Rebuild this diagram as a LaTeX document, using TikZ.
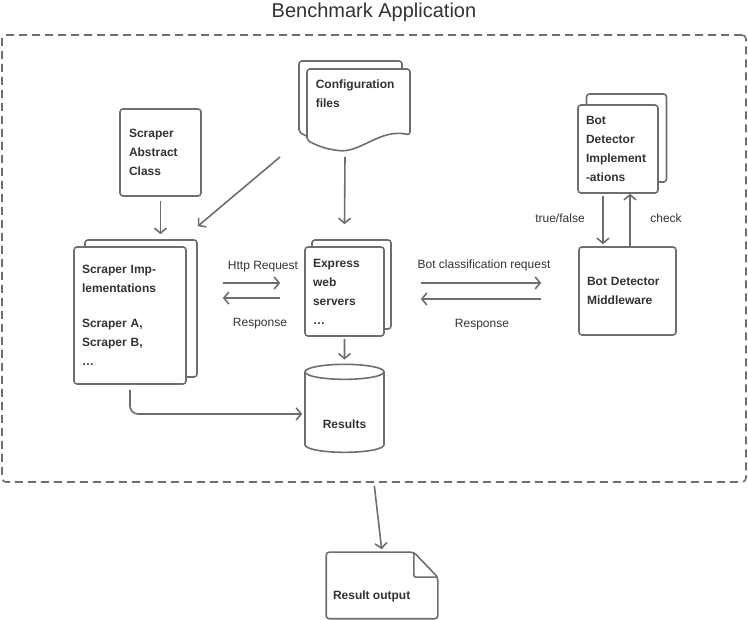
\documentclass[tikz,border=0pt]{standalone}
\usepackage{fontspec}
\setmainfont{Liberation Sans}
\usetikzlibrary{shapes.geometric}
\usetikzlibrary{shadows}
\usetikzlibrary{calc}
\usetikzlibrary{positioning}
\usetikzlibrary{arrows.meta}
\definecolor{linegray}{HTML}{6E6E6E}
\definecolor{textgray}{HTML}{333333}
\tikzset{
    docbox/.style = {draw = linegray, fill = white, rounded corners = 3pt,
        align = left, text = textgray, inner xsep = 8pt, inner ysep = 0pt,
        font = \bfseries\fontsize{12}{19}\selectfont},
    stack/.style 2 args = {copy shadow = {shadow xshift = #1, shadow yshift = #2,
        draw = linegray, fill = white, line width = 1.6pt}},
    lbl/.style = {text = textgray, inner sep = 0pt, font = \fontsize{12}{14}\selectfont},
    arr/.style = {-{Straight Barb[length = 5pt, width = 12pt]}},
}

\begin{document}
\begin{tikzpicture}[x = 1pt, y = 1pt, linegray, line width = 1.6pt]
    \useasboundingbox (0,0) rectangle (748,620);

    \node (title) at (374,608) [text = textgray, font = \fontsize{20}{24}\selectfont] {Benchmark Application};
    \node (app) at (374,361.5) [draw, dash pattern = on 8pt off 5pt, rounded corners = 4pt,
        minimum width = 744pt, minimum height = 447pt] {};

    % configuration files, two sheets with a wavy bottom
    \foreach \s in {8,0}
        \draw[fill = white, rounded corners = 3pt, shift = {(-\s,\s)}]
            (307,480) -- (307,551) -- (410,551) -- (410,485)
            .. controls (380,492) and (360,466) .. (335,470)
            .. controls (322,472) and (312,477) .. (307,480) -- cycle;
    \node (cfg) at (307,551) [docbox, draw = none, fill = none, anchor = north west,
        text width = 90pt, inner ysep = 10pt] {Configuration\\files};

    \node (sac) at (160.5,467.5) [docbox, minimum height = 87pt, text width = 63pt, inner xsep = 9pt]
        {Scraper\\Abstract\\Class};
    \node (simp) at (130,304.5) [docbox, stack = {11pt}{7pt}, minimum height = 137pt, text width = 96pt]
        {Scraper Imp-\\lementations\\[16pt]Scraper A,\\Scraper B,\\\dots};
    \node (exp) at (344.5,328.5) [docbox, stack = {7pt}{7pt}, minimum height = 89pt, text width = 63pt]
        {Express\\web\\servers\\\dots};
    \node (bdi) at (618,471) [docbox, stack = {8.5pt}{11pt}, minimum height = 88pt, text width = 64pt]
        {Bot\\Detector\\Implement\\-ations};
    \node (bdm) at (627.5,329) [docbox, minimum height = 88pt, text width = 81pt]
        {Bot Detector\\Middleware};
    \node (res) at (344.5,206) [cylinder, shape border rotate = 90, draw, fill = white, aspect = 0.3,
        minimum width = 79pt, minimum height = 88pt, text = textgray, text height = 29pt,
        font = \bfseries\fontsize{12}{14}\selectfont] {Results};

    % result output with folded corner
    \node (rout) at (382,34.5) [minimum width = 110pt, minimum height = 65pt] {};
    \draw[fill = white, rounded corners = 3pt] (rout.north west) -- ([xshift = -24pt]rout.north east)
        -- ([yshift = -25pt]rout.north east) -- (rout.south east) -- (rout.south west) -- cycle;
    \draw[rounded corners = 2pt] ([xshift = -24pt]rout.north east)
        -- ([shift = {(-24pt,-25pt)}]rout.north east) -- ([yshift = -25pt]rout.north east);
    \node (routtext) [lbl, anchor = west, font = \bfseries\fontsize{12}{14}\selectfont]
        at ([xshift = 6pt, yshift = -11pt]rout.west) {Result output};

    \draw[arr] ([shift = {(38,-88)}]cfg.north west) -- ([yshift = 22pt]exp.north);
    \draw[arr] ([shift = {(-27,-88)}]cfg.north west) -- ([shift = {(11,20)}]simp.north east);
    \draw[arr, shorten <= 4pt, shorten >= 12pt] (sac) -- (sac |- simp.north);

    \draw[arr, shorten <= 36pt, shorten >= 24pt] (simp.east |- 0,337) -- (exp.west |- 0,337);
    \draw[arr, shorten <= 24pt, shorten >= 36pt] (exp.west |- 0,322) -- (simp.east |- 0,322);
    \node (httpreq) [lbl] at (263,353) {Http Request};
    \node (httpres) [lbl] at (260,296) {Response};

    \draw[arr, shorten <= 36pt, shorten >= 37pt] (exp.east |- 0,337) -- (bdm.west |- 0,337);
    \draw[arr, shorten <= 37pt, shorten >= 36pt] (bdm.west |- 0,321) -- (exp.east |- 0,321);
    \node (botreq) [lbl] at (484,355) {Bot classification request};
    \node (botres) [lbl] at (482,295) {Response};

    \draw[arr, shorten <= 2pt, shorten >= 2pt] (bdi.south -| 603,0) -- (bdm.north -| 603,0);
    \draw[arr] (bdm.north -| 630,0) -- (bdi.south -| 630,0);
    \node (truefalse) [lbl] at (560,402) {true/false};
    \node (check) [lbl] at (666,402) {check};

    \draw[arr, shorten <= 2pt, shorten >= 4pt] (exp) -- (res);
    \draw[arr, rounded corners = 8pt, shorten <= 5pt, shorten >= 2pt] (simp.south) |- (res.west);
    \draw[arr, shorten <= 3pt, shorten >= 3pt] (app.south) -- (rout.north);
\end{tikzpicture}
\end{document}
